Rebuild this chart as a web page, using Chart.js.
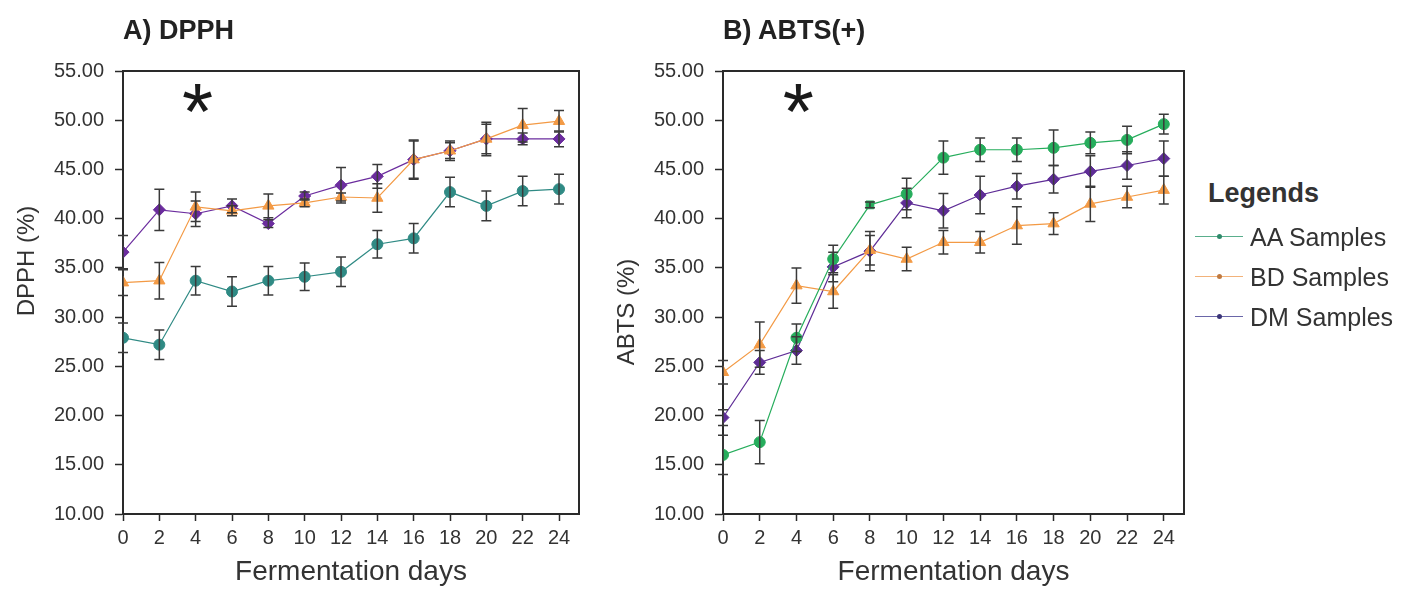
<!DOCTYPE html>
<html>
<head>
<meta charset="utf-8">
<script src="https://cdn.jsdelivr.net/npm/chart.js@4.4.1/dist/chart.umd.min.js"></script>
<style>
body { margin: 0; background: #fff; width: 1416px; height: 589px; overflow: hidden; position: relative; font-family: "Liberation Sans", Arial, sans-serif; }
.box { position: absolute; top: 0; width: 600px; height: 589px; }
.ptitle { position: absolute; top: 17px; font-weight: bold; font-size: 27px; line-height: 26px; color: #222; }
.leg { position: absolute; left: 1195px; font-size: 25px; line-height: 24px; color: #333; white-space: nowrap; }
.leg .ln { position: absolute; left: 0; top: 11px; width: 48px; height: 0; border-top: 1.5px solid; }
.leg .dt { position: absolute; left: 22px; top: 9px; width: 5px; height: 5px; border-radius: 50%; }
.leg .tx { position: absolute; left: 55px; top: 0; }
</style>
</head>
<body>
<div class="box" style="left:0"><canvas id="dpph"></canvas></div>
<div class="box" style="left:600px"><canvas id="abts"></canvas></div>
<div class="ptitle" style="left:123px">A) DPPH</div>
<div class="ptitle" style="left:723px">B) ABTS(+)</div>
<div class="ptitle" style="left:1208px;top:180px;color:#333">Legends</div>
<div class="leg" style="top:225px"><div class="ln" style="border-color:#5aae8c"></div><div class="dt" style="background:#2f8a6a"></div><div class="tx">AA Samples</div></div>
<div class="leg" style="top:265px"><div class="ln" style="border-color:#f2b27a"></div><div class="dt" style="background:#c07a40"></div><div class="tx">BD Samples</div></div>
<div class="leg" style="top:305px"><div class="ln" style="border-color:#6a66a8"></div><div class="dt" style="background:#3a3478"></div><div class="tx">DM Samples</div></div>
<script>
Chart.defaults.font.family = '"Liberation Sans", Arial, sans-serif';

var days = [0, 2, 4, 6, 8, 10, 12, 14, 16, 18, 20, 22, 24];
var yTicks = [10, 15, 20, 25, 30, 35, 40, 45, 50, 55];

// DPPH (%)
var dpphAA = [27.9, 27.2, 33.7, 32.6, 33.7, 34.1, 34.6, 37.4, 38.0, 42.7, 41.3, 42.8, 43.0];
var dpphAAErr = [1.5, 1.5, 1.45, 1.5, 1.45, 1.4, 1.5, 1.4, 1.5, 1.5, 1.5, 1.5, 1.5];
var dpphBD = [33.5, 33.7, 41.2, 40.8, 41.3, 41.6, 42.2, 42.1, 46.0, 46.9, 48.1, 49.5, 49.9];
var dpphBDErr = [1.3, 1.85, 1.5, 0.5, 1.2, 0.4, 0.4, 1.45, 2.0, 0.8, 1.5, 1.7, 1.1];
var dpphDM = [36.6, 40.9, 40.5, 41.3, 39.5, 42.3, 43.4, 44.3, 46.0, 46.9, 48.1, 48.1, 48.1];
var dpphDMErr = [1.7, 2.1, 1.3, 0.7, 0.4, 0.4, 1.8, 1.2, 1.9, 1.0, 1.7, 0.6, 0.8];

// ABTS (%)
var abtsAA = [16.0, 17.3, 27.9, 35.9, 41.4, 42.5, 46.2, 47.0, 47.0, 47.2, 47.7, 48.0, 49.6];
var abtsAAErr = [2.0, 2.2, 1.4, 1.4, 0.3, 1.6, 1.7, 1.2, 1.2, 1.8, 1.1, 1.4, 1.0];
var abtsBD = [24.4, 27.2, 33.2, 32.6, 36.8, 35.9, 37.6, 37.6, 39.3, 39.5, 41.5, 42.2, 42.9];
var abtsBDErr = [1.2, 2.3, 1.8, 1.7, 1.5, 1.2, 1.2, 1.1, 1.9, 1.1, 1.8, 1.1, 1.4];
var abtsDM = [19.8, 25.4, 26.6, 35.1, 36.7, 41.6, 40.8, 42.4, 43.3, 44.0, 44.8, 45.4, 46.1];
var abtsDMErr = [0.8, 1.2, 1.4, 1.5, 2.0, 1.5, 1.75, 1.9, 1.3, 1.4, 1.6, 1.4, 1.8];

function pts(vals) {
    return days.map(function (d, i) { return { x: d, y: vals[i] }; });
}

var errorBars = {
    id: 'errorBars',
    afterDatasetsDraw: function (chart) {
        var c = chart.ctx, sx = chart.scales.x, sy = chart.scales.y;
        c.save();
        c.strokeStyle = '#3a3a3a';
        c.lineWidth = 1.5;
        chart.data.datasets.forEach(function (ds) {
            ds.errors.forEach(function (e, i) {
                var p = ds.data[i];
                var px = sx.getPixelForValue(p.x);
                var top = sy.getPixelForValue(p.y + e);
                var bot = sy.getPixelForValue(p.y - e);
                c.beginPath();
                c.moveTo(px, top); c.lineTo(px, bot);
                c.moveTo(px - 5, top); c.lineTo(px + 5, top);
                c.moveTo(px - 5, bot); c.lineTo(px + 5, bot);
                c.stroke();
            });
        });
        c.restore();
    }
};

// top/right edges of the plot frame, the y title and the asterisk
var frame = {
    id: 'frame',
    afterDraw: function (chart, args, opts) {
        var c = chart.ctx, a = chart.chartArea;
        c.save();
        c.strokeStyle = '#2a2a2a';
        c.lineWidth = 2;
        c.beginPath();
        c.moveTo(a.left, a.top); c.lineTo(a.right, a.top); c.lineTo(a.right, a.bottom);
        c.stroke();

        c.fillStyle = '#333';
        c.font = '24px "Liberation Sans", Arial, sans-serif';
        c.textAlign = 'center';
        c.textBaseline = 'middle';
        c.translate(27, opts.titleY);
        c.rotate(-Math.PI / 2);
        c.fillText(opts.title, 0, 0);
        c.setTransform(1, 0, 0, 1, 0, 0);

        var fs = 80;
        c.font = fs + 'px "Liberation Sans", Arial, sans-serif';
        c.fillStyle = '#1a1a1a';
        c.textBaseline = 'alphabetic';
        c.fillText('*', chart.scales.x.getPixelForValue(opts.x), chart.scales.y.getPixelForValue(opts.y) + fs * 0.49);
        c.restore();
    }
};

function series(label, vals, errs, color, style, radius) {
    return {
        label: label,
        data: pts(vals),
        errors: errs,
        borderColor: color,
        backgroundColor: color,
        borderWidth: 1.2,
        pointStyle: style,
        pointRadius: radius,
        pointBorderWidth: 1,
        tension: 0
    };
}

function makeChart(id, yTitle, titleY, datasets, padRight) {
    return new Chart(document.getElementById(id), {
        type: 'line',
        data: { datasets: datasets },
        plugins: [errorBars, frame],
        options: {
            responsive: true,
            maintainAspectRatio: false,
            animation: false,
            layout: { padding: { top: 71, right: padRight, bottom: 0, left: 0 } },
            plugins: {
                legend: { display: false },
                tooltip: { enabled: false },
                frame: { x: 4.1, y: 52.1, title: yTitle, titleY: titleY }
            },
            scales: {
                x: {
                    type: 'linear',
                    min: 0,
                    max: 25.1,
                    afterBuildTicks: function (s) { s.ticks = days.map(function (v) { return { value: v }; }); },
                    afterFit: function (s) { s.height = 75; },
                    border: { display: true, color: '#2a2a2a', width: 2 },
                    grid: { drawOnChartArea: false, drawTicks: true, tickLength: 7, color: '#2a2a2a', tickWidth: 1.5 },
                    ticks: { font: { size: 20 }, color: '#333', padding: 5, maxRotation: 0, autoSkip: false },
                    title: { display: true, text: 'Fermentation days', font: { size: 28 }, color: '#333', padding: { top: 0, bottom: 0 } }
                },
                y: {
                    min: 10,
                    max: 55,
                    afterBuildTicks: function (s) { s.ticks = yTicks.map(function (v) { return { value: v }; }); },
                    afterFit: function (s) { s.width = 123; },
                    border: { display: true, color: '#2a2a2a', width: 2 },
                    grid: { drawOnChartArea: false, drawTicks: true, tickLength: 8, color: '#2a2a2a', tickWidth: 1.5 },
                    ticks: {
                        font: { size: 20 }, color: '#333', padding: 11,
                        callback: function (v) { return v.toFixed(2); }
                    },
                    title: { display: false }
                }
            }
        }
    });
}

makeChart('dpph', 'DPPH (%)', 261, [
    series('AA Samples', dpphAA, dpphAAErr, '#2f8a84', 'circle', 5.5),
    series('BD Samples', dpphBD, dpphBDErr, '#f39a45', 'triangle', 6.5),
    series('DM Samples', dpphDM, dpphDMErr, '#6b2c9e', 'rectRot', 6)
], 21);

var abtsSet = [
    series('AA Samples', abtsAA, abtsAAErr, '#26ad5c', 'circle', 5.5),
    series('BD Samples', abtsBD, abtsBDErr, '#f39a45', 'triangle', 6.5),
    series('DM Samples', abtsDM, abtsDMErr, '#5e2c96', 'rectRot', 6)
];
abtsSet[0].pointStyle = function (ctx) { return ctx.dataIndex === 4 ? 'rect' : 'circle'; };
makeChart('abts', 'ABTS (%)', 312, abtsSet, 16);
</script>
</body>
</html>
